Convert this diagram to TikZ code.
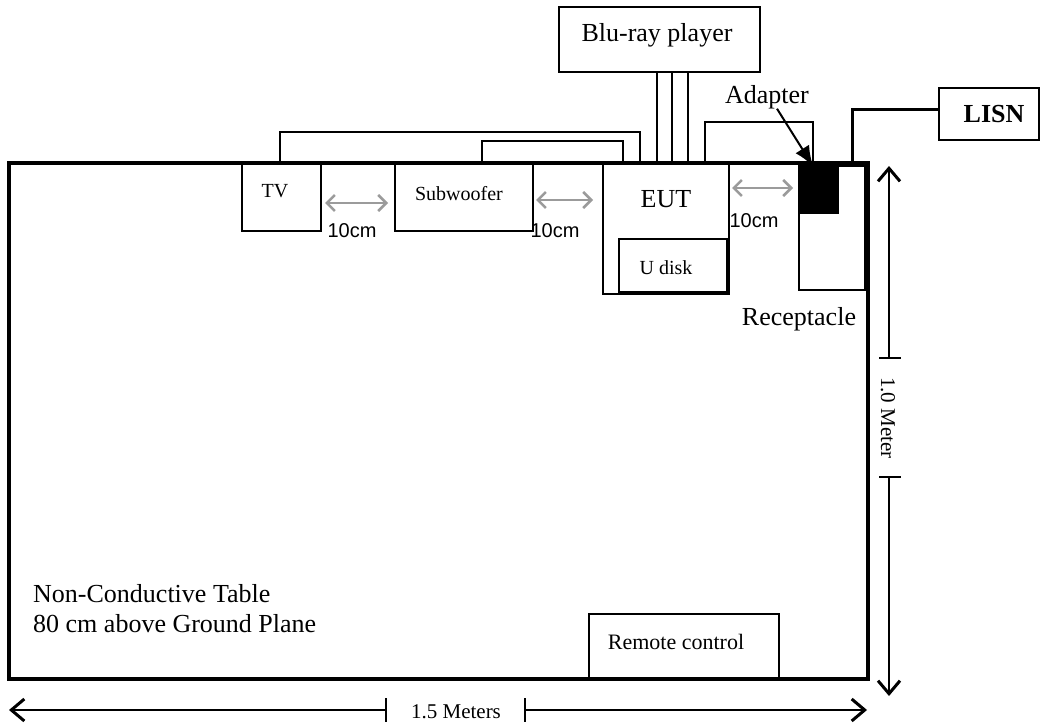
\documentclass[tikz,border=0pt]{standalone}
\usepackage{fontspec}
\setmainfont{Liberation Serif}
\newfontfamily\arialf{Liberation Sans}
\usetikzlibrary{arrows.meta}
\definecolor{arrgray}{RGB}{155,155,155}
\tikzset{
  dimtip/.tip={Straight Barb[length=13pt,width=22pt,line width=3pt]},
  gtip/.tip={Straight Barb[length=8pt,width=16pt,line width=2.5pt]},
  adtip/.tip={Latex[length=20pt,width=16pt]},
}
\begin{document}
\begin{tikzpicture}[x=1pt,y=-1pt,
  box/.style={draw, line width=1.5pt, inner sep=0pt, outer sep=0pt, anchor=north west},
  big/.style={inner sep=0pt, font=\fontsize{26}{30}\selectfont},
  mid/.style={inner sep=0pt, font=\fontsize{20}{24}\selectfont},
  cmlbl/.style={inner sep=0pt, font=\arialf\fontsize{20}{24}\selectfont},
  cable/.style={line width=1.5pt},
  gap/.style={draw=arrgray, line width=2.5pt, gtip-gtip},
  dim/.style={line width=2pt},
]
\useasboundingbox (0,0) rectangle (1041,725);

% table
\node[box, line width=3.5pt, minimum width=859pt, minimum height=516pt] (table) at (9,163) {};

% boxes
\node[box, minimum width=79pt, minimum height=68pt] (tv) at (242,163) {};
\node[box, minimum width=138pt, minimum height=68pt] (sub) at (395,163) {};
\node[box, minimum width=126pt, minimum height=131pt] (eut) at (603,163) {};
\node[box, minimum width=108pt, minimum height=53pt] (udisk) at (619,239) {};
\node[box, minimum width=66pt, minimum height=124pt] (recep) at (799,166) {};
\node[box, fill=black, minimum width=39pt, minimum height=47pt] (adapter) at (799,166) {};
\node[box, minimum width=201pt, minimum height=65pt] (bluray) at (559,7) {};
\node[box, minimum width=100pt, minimum height=52pt] (lisn) at (939,88) {};
\node[box, minimum width=190pt, minimum height=65pt] (remote) at (589,614) {};

% texts
\node[big, anchor=base] (tbluray) at (657,42) {Blu-ray player};
\node[big, anchor=base] (adlbl) at (767,103) {Adapter};
\node[big, anchor=base] (tlisn) at (994,122) {\bfseries LISN};
\node[mid, anchor=base] (ttv) at (275,197) {TV};
\node[mid, anchor=base] (tsub) at (459,200) {Subwoofer};
\node[big, anchor=base] (teut) at (666,207) {EUT};
\node[mid, anchor=base] (tudisk) at (666,274) {U disk};
\node[big, anchor=base] (trecep) at (799,325) {Receptacle};
\node[big, anchor=base west] (ttab1) at (33,602) {Non-Conductive Table};
\node[big, anchor=base west] (ttab2) at (33,632) {80 cm above Ground Plane};
\node[inner sep=0pt, font=\fontsize{22}{26}\selectfont, anchor=base] (tremote) at (676,649) {Remote control};
\node[cmlbl, anchor=base] (cm1) at (352,237) {10cm};
\node[cmlbl, anchor=base] (cm2) at (555,237) {10cm};
\node[cmlbl, anchor=base] (cm3) at (754,227) {10cm};

% cables
\draw[cable] ([xshift=38pt]tv.north west) -- ++(0,-31) -| ([xshift=37pt]eut.north west);
\draw[cable] ([xshift=87pt]sub.north west) -- ++(0,-22) -| ([xshift=20pt]eut.north west);
\foreach \dx in {98,113,129}
  \draw[cable] ([xshift=\dx pt]bluray.south west) -- ++(0,91);
\draw[cable] ([xshift=102pt]eut.north west) -- ++(0,-41) -| ([xshift=14pt]adapter.north west);
\draw[line width=3pt] ([xshift=53pt,yshift=3pt]recep.north west) |- ([yshift=5pt]lisn.west);
\draw[line width=2pt, -adtip] ([xshift=10pt]adlbl.south) -- ([xshift=14pt]adapter.north west);

% 10cm gap arrows
\coordinate (g1a) at (325,203); \coordinate (g1b) at (388,203);
\coordinate (g2a) at (536,200); \coordinate (g2b) at (593,200);
\coordinate (g3a) at (732,188); \coordinate (g3b) at (793,188);
\draw[gap] (g1a) -- (g1b);
\draw[gap] (g2a) -- (g2b);
\draw[gap] (g3a) -- (g3b);

% horizontal dimension
\coordinate (hl) at (9,710); \coordinate (hlt) at (386,710);
\coordinate (hrt) at (525,710); \coordinate (hr) at (867,710);
\node[inner sep=0pt, font=\fontsize{21}{25}\selectfont, anchor=base] (tw) at (456,718) {1.5 Meters};
\draw[dim, dimtip-] (hl) -- (hlt);
\draw[dim] ([yshift=12pt]hlt) -- ([yshift=-12pt]hlt);
\draw[dim, -dimtip] (hrt) -- (hr);
\draw[dim] ([yshift=12pt]hrt) -- ([yshift=-12pt]hrt);

% vertical dimension
\coordinate (vt) at (889,166); \coordinate (vtt) at (889,358);
\coordinate (vbt) at (889,477); \coordinate (vb) at (889,696);
\node[inner sep=0pt, font=\fontsize{21}{25}\selectfont, rotate=-90] (th) at (888,418) {1.0 Meter};
\draw[dim, dimtip-] (vt) -- (vtt);
\draw[dim] ([xshift=-10pt]vtt) -- ([xshift=12pt]vtt);
\draw[dim, -dimtip] (vbt) -- (vb);
\draw[dim] ([xshift=-10pt]vbt) -- ([xshift=12pt]vbt);
\end{tikzpicture}
\end{document}
